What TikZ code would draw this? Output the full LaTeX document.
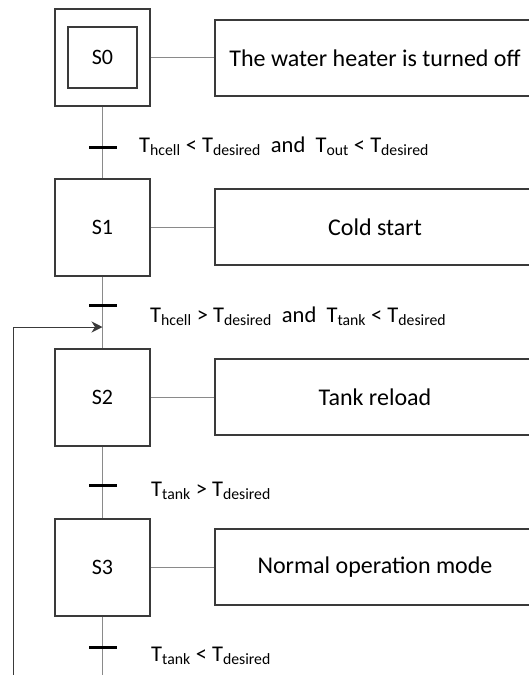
\documentclass[tikz,border=0pt]{standalone}
\usepackage{fontspec}
\setmainfont{Carlito}
\usetikzlibrary{arrows.meta}
\definecolor{boxc}{HTML}{3A3A3A}
\definecolor{linec}{HTML}{8A8A8A}
\begin{document}
\begin{tikzpicture}[x=1pt,y=-1pt,
  stepbox/.style={draw=boxc,line width=1.2pt,minimum width=95pt,minimum height=97pt,inner sep=0pt,font=\fontsize{22}{26}\selectfont},
  initbox/.style={draw=boxc,line width=1.2pt,minimum width=69pt,minimum height=61pt,inner sep=0pt,font=\fontsize{22}{26}\selectfont},
  actbox/.style={draw=boxc,line width=1.2pt,minimum width=320pt,minimum height=76pt,inner sep=0pt,font=\fontsize{24}{28}\selectfont},
  transbar/.style={fill=black,draw=none,minimum width=28pt,minimum height=3pt,inner sep=0pt},
  translabel/.style={anchor=base west,inner sep=0pt,font=\fontsize{22.5}{26}\selectfont},
  link/.style={draw=linec,line width=0.9pt},
  flow/.style={draw=linec,line width=1pt},
  ret/.style={draw=boxc,line width=1pt,-{Stealth[length=11pt,width=11pt,inset=3.5pt]}}
]
\useasboundingbox (0,0) rectangle (529,675);
\clip (0,0) rectangle (529,675);
% steps
\node[stepbox] (s0) at (102.5,57.5) {};
\node[initbox] (s0i) at (102.5,57.5) {S0};
\node[stepbox] (s1) at (102.5,227.5) {S1};
\node[stepbox] (s2) at (102.5,397.5) {S2};
\node[stepbox] (s3) at (102.5,567.5) {S3};
% actions
\node[actbox] (a0) at (375,58) {The water heater is turned off};
\node[actbox] (a1) at (375,227) {Cold start};
\node[actbox] (a2) at (375,397) {Tank reload};
\node[actbox] (a3) at (375,567) {Normal operation mode};
\draw[link] (s0.east) -- (a0.west |- s0.east);
\draw[link] (s1.east) -- (a1.west |- s1.east);
\draw[link] (s2.east) -- (a2.west |- s2.east);
\draw[link] (s3.east) -- (a3.west |- s3.east);
% flow lines
\coordinate (bot) at (102.5,675);
\draw[flow] (s0.south) -- (s1.north);
\draw[flow] (s1.south) -- (s2.north);
\draw[flow] (s2.south) -- (s3.north);
\draw[flow] (s3.south) -- (bot);
% transitions
\node[transbar] (t1) at (102.5,147.5) {};
\node[transbar] (t2) at (102.5,305) {};
\node[transbar] (t3) at (102.5,485) {};
\node[transbar] (t4) at (102.5,647.5) {};
\node[translabel] (l1) at (139,152) {T\textsubscript{hcell} < T\textsubscript{desired}\ \ and\ \ T\textsubscript{out} < T\textsubscript{desired}};
\node[translabel] (l2) at (150,322) {T\textsubscript{hcell} > T\textsubscript{desired}\ \ and\ \ T\textsubscript{tank} < T\textsubscript{desired}};
\node[translabel] (l3) at (151,496) {T\textsubscript{tank} > T\textsubscript{desired}};
\node[translabel] (l4) at (151,661) {T\textsubscript{tank} < T\textsubscript{desired}};
% return arrow
\coordinate (rb) at (13,675);
\coordinate (rc) at (13,327);
\coordinate (re) at (102.5,327);
\draw[ret] (rb) -- (rc) -- (re);
\end{tikzpicture}
\end{document}
